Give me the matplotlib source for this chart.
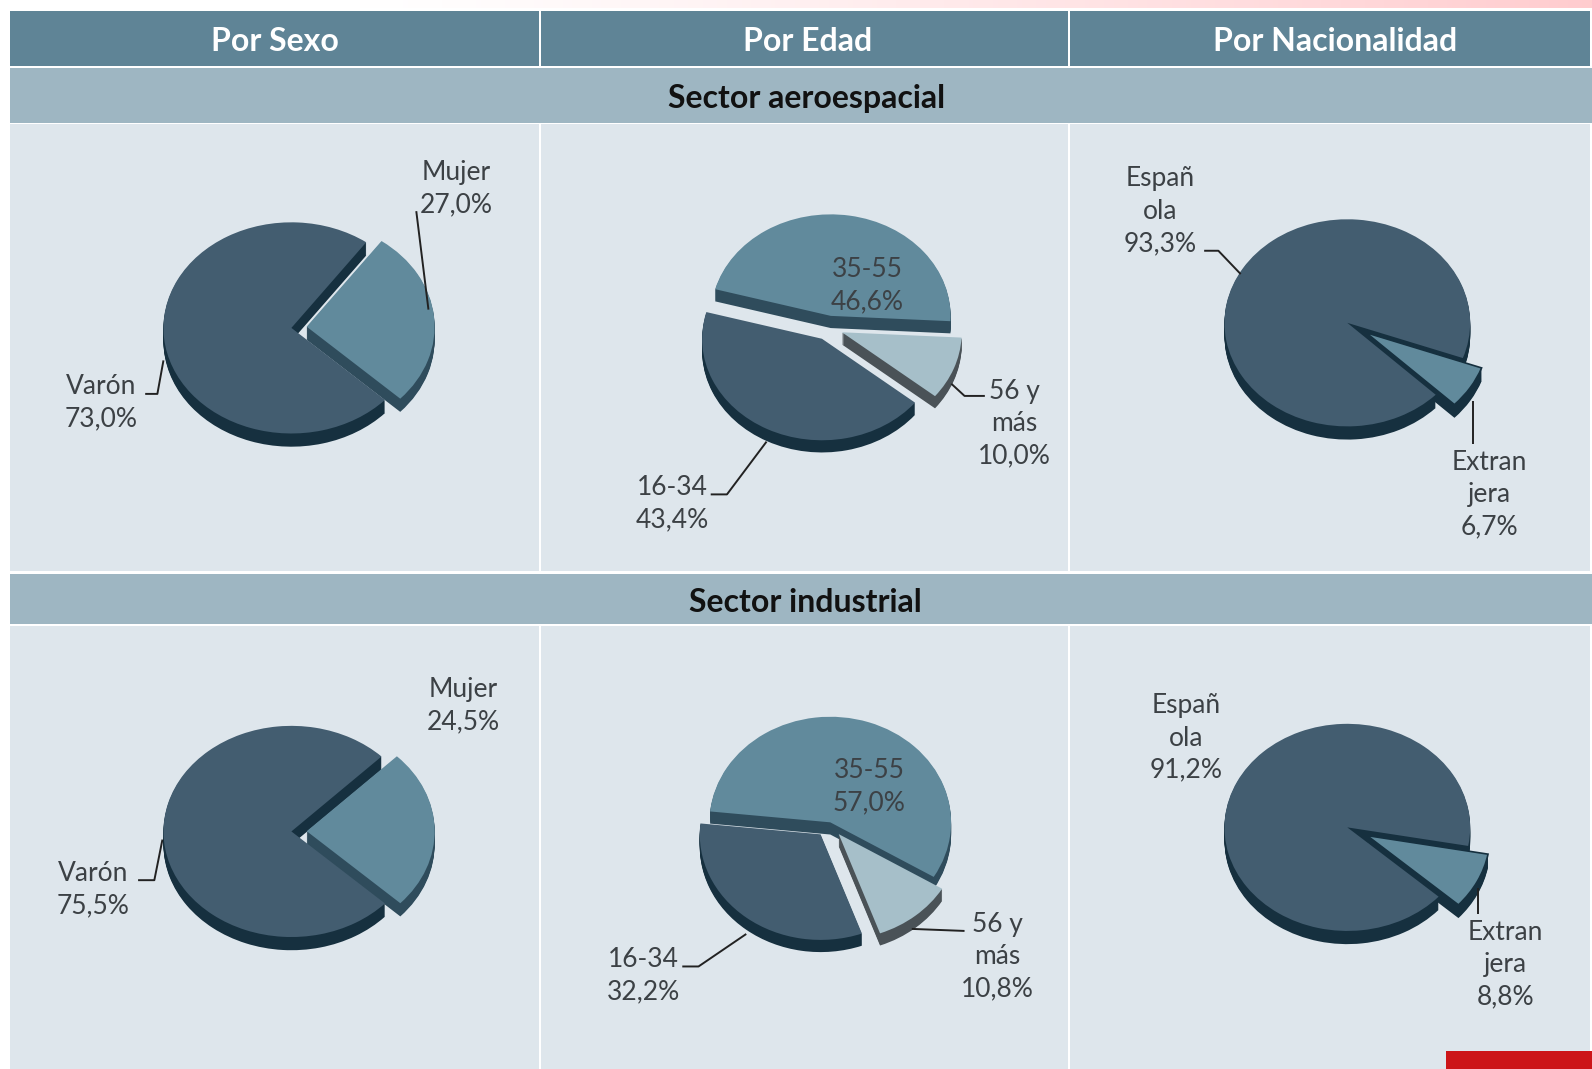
import numpy as np
import matplotlib
matplotlib.use('Agg')
import matplotlib.pyplot as plt
from matplotlib.patches import Rectangle

plt.rcParams['font.family'] = ['Lato', 'DejaVu Sans']

# datos
columnas = ['Por Sexo', 'Por Edad', 'Por Nacionalidad']
sectores = ['Sector aeroespacial', 'Sector industrial']

sexo_labels = ['Mujer', 'Varón']
edad_labels = ['56 y\nmás', '35-55', '16-34']
nac_labels = ['Extran\njera', 'Españ\nola']

aero_sexo = [27.0, 73.0]
aero_edad = [10.0, 46.6, 43.4]
aero_nac = [6.7, 93.3]
ind_sexo = [24.5, 75.5]
ind_edad = [10.8, 57.0, 32.2]
ind_nac = [8.8, 91.2]

# todo el layout en pixeles de una imagen 1568 x 1053
W, H = 1568, 1053
C_HEAD = '#5F8496'
C_BAND = '#9EB6C2'
C_PANEL = '#DEE6EC'
C_TEXT = '#3C4145'

OSCURO = '#435D70'
MEDIO = '#618A9C'
CLARO = '#A6BFC9'
LADO_OSCURO = '#16303F'
LADO_MEDIO = '#2F4C5C'
LADO_CLARO = '#4A5257'

fig = plt.figure(figsize=(15.92, 10.69), dpi=100, facecolor='white')

bg = fig.add_axes([0, 0, 1, 1], zorder=0)
bg.set_xlim(0, W)
bg.set_ylim(H, 0)
bg.axis('off')

# franja rosa de arriba
grad = np.linspace(0, 1, 256).reshape(1, -1, 1) ** 1.2
rosa = np.array([1.0, 0.80, 0.81])
franja = 1 - grad * (1 - rosa)
bg.imshow(franja, extent=(350, W, 8, 0), aspect='auto', zorder=1)
bg.set_xlim(0, W)
bg.set_ylim(H, 0)

col_x = [10, 533, 1054, W]
col_txt = [271, 795, 1315]
for i, nombre in enumerate(columnas):
    x0, x1 = col_x[i], col_x[i + 1]
    bg.add_patch(Rectangle((x0, 11), x1 - x0 - 2, 54, color=C_HEAD, lw=0, zorder=2))
    bg.text(col_txt[i], 41, nombre, color='white', fontsize=23, fontweight='bold',
            ha='center', va='center', zorder=3)
    for y0, y1 in [(122, 562), (617, H)]:
        bg.add_patch(Rectangle((x0, y0), x1 - x0 - 2, y1 - y0, color=C_PANEL, lw=0, zorder=2))

for nombre, y0, y1, xt in [(sectores[0], 67, 121, 794), (sectores[1], 565, 615, 793)]:
    bg.add_patch(Rectangle((10, y0), W - 10, y1 - y0, color=C_BAND, lw=0, zorder=2))
    bg.text(xt, (y0 + y1) / 2 + 3, nombre, color='#111111', fontsize=23, fontweight='bold',
            ha='center', va='center', zorder=3)

bg.add_patch(Rectangle((1424, 1035), W - 1424, H - 1035, color='#CC1518', lw=0, zorder=4))


def tarta(valores, colores, lados, cx, cy, rx, ry, prof, inicio, explode):
    # cada tarta va en sus propios ejes: radio 1 = rx, ry pixeles
    m = 1.6
    ax = fig.add_axes([(cx - m * rx) / W, 1 - (cy + m * ry) / H, 2 * m * rx / W, 2 * m * ry / H],
                      zorder=1)
    ax.patch.set_alpha(0)
    for k in range(prof, 0, -1):
        ax.pie(valores, colors=lados, startangle=inicio, explode=explode, radius=1,
               center=(0, -k / ry), normalize=True, frame=False)
    top, _ = ax.pie(valores, colors=colores, startangle=inicio, explode=explode, radius=1,
                    center=(0, 0), normalize=True, frame=False)
    ax.set_aspect('auto')
    ax.set_xlim(-m, m)
    ax.set_ylim(-m, m)
    ax.axis('off')
    return top


tarta(aero_sexo, [MEDIO, OSCURO], [LADO_MEDIO, LADO_OSCURO], 287, 323, 126, 104, 13, -43, [0.12, 0])
tarta(ind_sexo, [MEDIO, OSCURO], [LADO_MEDIO, LADO_OSCURO], 287, 819, 126, 104, 13, -43, [0.12, 0])
tarta(aero_edad, [CLARO, MEDIO, OSCURO], [LADO_CLARO, LADO_MEDIO, LADO_OSCURO],
      816, 323, 118, 100, 12, -39, [0.12, 0.12, 0.12])
tarta(ind_edad, [CLARO, MEDIO, OSCURO], [LADO_CLARO, LADO_MEDIO, LADO_OSCURO],
      817, 812, 119, 104, 12, -70, [0.12, 0.02, 0.12])
w = tarta(aero_nac, [MEDIO, OSCURO], [LADO_OSCURO, LADO_OSCURO], 1327, 318, 121, 102, 13, -44, [0.18, 0])
w[0].set_edgecolor(LADO_OSCURO)
w[0].set_linewidth(1.2)
w = tarta(ind_nac, [MEDIO, OSCURO], [LADO_OSCURO, LADO_OSCURO], 1327, 815, 121, 102, 13, -42, [0.18, 0])
w[0].set_edgecolor(LADO_OSCURO)
w[0].set_linewidth(1.2)

fg = fig.add_axes([0, 0, 1, 1], zorder=5)
fg.set_xlim(0, W)
fg.set_ylim(H, 0)
fg.axis('off')
fg.patch.set_alpha(0)


def rotulo(nombre, valor, x, y):
    txt = nombre + '\n' + f'{valor:.1f}%'.replace('.', ',')
    fg.text(x, y + 2, txt, color=C_TEXT, fontsize=19, ha='center', va='center', linespacing=1.36)


rotulo(sexo_labels[0], aero_sexo[0], 449, 184)
rotulo(sexo_labels[1], aero_sexo[1], 100, 395)
rotulo(edad_labels[1], aero_edad[1], 854, 279)
rotulo(edad_labels[0], aero_edad[0], 999, 415)
rotulo(edad_labels[2], aero_edad[2], 662, 494)
rotulo(nac_labels[1], aero_nac[1], 1143, 206)
rotulo(nac_labels[0], aero_nac[0], 1467, 485)

rotulo(sexo_labels[0], ind_sexo[0], 456, 693)
rotulo(sexo_labels[1], ind_sexo[1], 92, 874)
rotulo(edad_labels[1], ind_edad[1], 856, 773)
rotulo(edad_labels[0], ind_edad[0], 982, 940)
rotulo(edad_labels[2], ind_edad[2], 634, 959)
rotulo(nac_labels[1], ind_nac[1], 1168, 725)
rotulo(nac_labels[0], ind_nac[0], 1483, 948)

# lineas guia
guias = [
    ([410, 422], [208, 305]),
    ([143, 155, 161], [388, 388, 355]),
    ([700, 716, 755], [487, 487, 435]),
    ([970, 950, 937], [390, 390, 378]),
    ([1451, 1451], [437, 395]),
    ([1186, 1200, 1222], [247, 247, 270]),
    ([136, 152, 160], [867, 867, 827]),
    ([672, 688, 735], [952, 952, 920]),
    ([950, 898], [917, 915]),
    ([1456, 1456], [900, 875]),
]
for gx, gy in guias:
    fg.plot(gx, gy, color='#222222', lw=1.4, solid_capstyle='butt')

fig.savefig('out.png', dpi=100)
